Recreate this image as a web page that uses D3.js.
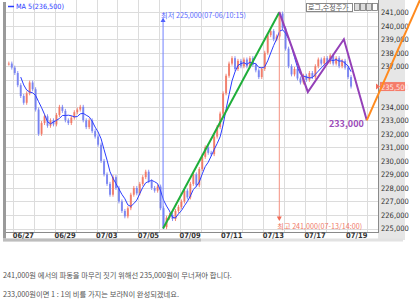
<!DOCTYPE html>
<html>
<head>
<meta charset="utf-8">
<script src="https://cdn.jsdelivr.net/npm/d3@7"></script>
<style>
  body { margin: 0; background: #fff; }
  svg { display: block; font-family: "Noto Sans CJK KR", "DejaVu Sans", sans-serif; }
</style>
</head>
<body>
<svg id="chart" width="420" height="301"></svg>
<script>
// trading days shown (06/26 only has its last two bars on screen)
const days = ['06/26', '06/27', '06/28', '06/29', '07/02', '07/03', '07/04', '07/05', '07/06',
  '07/09', '07/10', '07/11', '07/12', '07/13', '07/16', '07/17', '07/18', '07/19']
// hourly closes per day, in thousands of won
const closes = [
  [237.2, 236.9],
  [236.5, 235.6, 234.8, 234.3, 235.0, 235.8, 235.3],
  [233.8, 232.0, 232.8, 233.3, 232.6, 233.0, 232.7],
  [233.4, 234.0, 233.7, 233.0, 232.8, 233.2, 233.6],
  [233.8, 234.0, 233.0, 232.5, 233.0, 232.2, 231.8],
  [231.2, 230.0, 229.0, 228.3, 227.5, 228.8, 228.0],
  [227.0, 226.3, 225.9, 226.5, 227.5, 228.0, 227.6],
  [228.3, 228.8, 229.2, 228.5, 228.0, 227.8, 228.1],
  [226.5, 225.1, 225.8, 226.0, 225.7, 226.3, 226.6],
  [227.0, 227.8, 227.3, 228.3, 229.0, 228.2, 229.4],
  [230.3, 231.0, 230.6, 230.5, 231.8, 232.5, 233.5],
  [235.0, 236.3, 237.2, 237.6, 236.8, 237.4, 237.0],
  [237.5, 237.0, 237.6, 237.1, 236.7, 236.2, 236.8],
  [238.0, 239.3, 239.6, 239.0, 239.2, 240.9, 239.8],
  [238.3, 237.0, 236.4, 236.8, 236.1, 235.8, 236.3],
  [236.0, 236.5, 236.2, 237.0, 237.5, 237.2, 237.6],
  [237.3, 237.8, 237.2, 237.6, 237.0, 237.4, 236.9],
  [236.2, 235.5]
]
const xLabels = ['06/27', '06/29', '07/03', '07/05', '07/09', '07/11', '07/13', '07/17', '07/19']
const yTicks = [225000, 226000, 227000, 228000, 229000, 230000, 231000, 232000, 233000,
  234000, 235000, 236000, 237000, 238000, 239000, 240000, 241000]
const lastPrice = 235500
const ma5Value = 236500

// trend line low -> high (position in trading days from 06/27 open)
const trendT = [7.19, 12.77]
const trendV = [225000, 241000]
// purple wave and orange projection
const waveT = [12.77, 14.14, 15.87, 16.97]
const waveV = [241000, 235100, 239000, 233000]
const projT = [16.97, 19.55]
const projV = [233000, 242000]

const barsPerDay = 7
const svg = d3.select('#chart')
const plot = { left: 6, right: 378, top: 0, bottom: 232 }

const x = d3.scaleLinear().domain([0, 1]).range([13.3, 34.13])
const y = d3.scaleLinear().domain([225000, 241000]).range([228.5, 12.2])

// flatten bars
let bars = []
closes.forEach((arr, di) => {
  const offset = di === 0 ? barsPerDay - arr.length : 0
  arr.forEach((c, k) => {
    bars.push({ t: di - 1 + (offset + k + 0.5) / barsPerDay, c: c * 1000 })
  })
})
bars.forEach((b, i) => { b.o = i === 0 ? b.c : bars[i - 1].c })

// backgrounds
svg.append('rect').attr('x', 378).attr('y', 0).attr('width', 27).attr('height', 240).attr('fill', '#e6e6e6')
svg.append('rect').attr('x', 3).attr('y', 2).attr('width', 3).attr('height', 239).attr('fill', '#9a9a9a')
svg.append('rect').attr('x', 3).attr('y', 238.5).attr('width', 400).attr('height', 3).attr('fill', '#e2e2e2')
svg.append('rect').attr('x', 3).attr('y', 238.5).attr('width', 198).attr('height', 3).attr('fill', '#bdbdbd')

// grid
const grid = svg.append('g')
grid.selectAll('line.h').data(yTicks).join('line')
  .attr('x1', plot.left).attr('x2', plot.right)
  .attr('y1', d => Math.round(y(d)) + 0.5).attr('y2', d => Math.round(y(d)) + 0.5)
  .attr('stroke', '#dcdcdc')
grid.selectAll('line.v').data(d3.range(0, days.length)).join('line')
  .attr('x1', d => Math.round(x(d)) + 0.5).attr('x2', d => Math.round(x(d)) + 0.5)
  .attr('y1', plot.top).attr('y2', plot.bottom)
  .attr('stroke', '#dcdcdc')

// plot borders
svg.append('line').attr('x1', plot.right + 0.5).attr('x2', plot.right + 0.5)
  .attr('y1', 0).attr('y2', plot.bottom + 0.5).attr('stroke', '#8a8a8a')
svg.append('line').attr('x1', plot.left).attr('x2', plot.right + 1)
  .attr('y1', plot.bottom + 0.5).attr('y2', plot.bottom + 0.5).attr('stroke', '#8a8a8a')

// candles
const candles = svg.append('g')
candles.selectAll('line').data(bars).join('line')
  .attr('x1', d => x(d.t)).attr('x2', d => x(d.t))
  .attr('y1', d => y(Math.max(d.o, d.c)) - 2).attr('y2', d => y(Math.min(d.o, d.c)) + 2)
  .attr('stroke', d => d.c >= d.o ? '#f58a7a' : '#8c94f5').attr('stroke-width', 1)
candles.selectAll('rect').data(bars).join('rect')
  .attr('x', d => x(d.t) - 1).attr('width', 2)
  .attr('y', d => y(Math.max(d.o, d.c)))
  .attr('height', d => Math.max(1, Math.abs(y(d.o) - y(d.c))))
  .attr('fill', d => d.c >= d.o ? '#f0735f' : '#6f7cf0')
  .attr('opacity', 0.8)

// MA 5
const ma = bars.map((b, i) => i < 4 ? null : { t: b.t, v: d3.mean(bars.slice(i - 4, i + 1), d => d.c) })
  .filter(d => d)
svg.append('path').datum(ma)
  .attr('d', d3.line().x(d => x(d.t)).y(d => y(d.v)))
  .attr('fill', 'none').attr('stroke', '#2b3cff').attr('stroke-width', 1)

// low annotation (blue)
const lowX = x(trendT[0])
svg.append('line').attr('x1', lowX).attr('x2', lowX).attr('y1', y(trendV[0])).attr('y2', 21)
  .attr('stroke', '#7080ff').attr('stroke-width', 1)
svg.append('path').attr('d', `M${lowX},17.5 L${lowX - 2.5},22 L${lowX + 2.5},22 Z`).attr('fill', '#5060ff')
svg.append('text').attr('x', lowX - 2).attr('y', 17.5).attr('font-size', 7.2).attr('fill', '#5a6aff')
  .text('최저 225,000(07-06/10:15)')

// high annotation (red)
const highX = x(trendT[1])
svg.append('line').attr('x1', highX).attr('x2', highX).attr('y1', y(trendV[1])).attr('y2', 217)
  .attr('stroke', '#f59080').attr('stroke-width', 1)
svg.append('path').attr('d', `M${highX},221 L${highX - 2.5},216.5 L${highX + 2.5},216.5 Z`).attr('fill', '#f06a55')
svg.append('text').attr('x', highX - 2).attr('y', 228.5).attr('font-size', 7.2).attr('fill', '#f07a68')
  .text('최고 241,000(07-13/14:00)')

// trend, wave, projection
const line = d3.line().x(d => x(d[0])).y(d => y(d[1]))
svg.append('path').attr('d', line(d3.zip(trendT, trendV)))
  .attr('fill', 'none').attr('stroke', '#1fae3a').attr('stroke-width', 2)
svg.append('path').attr('d', line(d3.zip(waveT, waveV)))
  .attr('fill', 'none').attr('stroke', '#9440b8').attr('stroke-width', 2)
svg.append('text').attr('x', x(waveT[3]) - 3).attr('y', y(waveV[3]) + 7)
  .attr('text-anchor', 'end').attr('font-size', 9).attr('font-weight', 'bold').attr('fill', '#9a4ab8')
  .text(d3.format(',')(waveV[3]))

// y axis labels (the one under the price box is hidden, as in the original)
const py = y(lastPrice)
const yAxis = svg.append('g').attr('transform', `translate(${plot.right + 2},0)`)
  .call(d3.axisRight(y).tickValues(yTicks.filter(v => Math.abs(y(v) - py) > 8))
    .tickSize(0).tickPadding(1).tickFormat(d3.format(',')))
yAxis.select('.domain').remove()
yAxis.selectAll('text').attr('font-size', 7.5).attr('fill', '#333').attr('font-family', '"DejaVu Sans Condensed", sans-serif')

// current price marker
svg.append('path').attr('d', `M${plot.right - 2},${py - 3} L${plot.right + 2},${py} L${plot.right - 2},${py + 3} Z`).attr('fill', '#f36e5c')
svg.append('rect').attr('x', plot.right + 2).attr('y', py - 4.5).attr('width', 25).attr('height', 9).attr('fill', '#f57c6a')
svg.append('text').attr('x', plot.right + 3).attr('y', py + 3).attr('font-size', 7.5)
  .attr('font-family', '"DejaVu Sans Condensed", sans-serif').attr('fill', '#ffe8e4')
  .text(d3.format(',')(lastPrice))

// projection drawn on top of axis area
svg.append('path').attr('d', line(d3.zip(projT, projV)))
  .attr('fill', 'none').attr('stroke', '#ff8a1e').attr('stroke-width', 2)

// x axis labels
const xAxis = svg.append('g').attr('transform', `translate(0,${plot.bottom})`)
  .call(d3.axisBottom(x).tickValues(xLabels.map(l => days.indexOf(l) - 1)).tickSize(0).tickPadding(1)
    .tickFormat(d => days[d + 1]))
xAxis.select('.domain').remove()
xAxis.selectAll('text').attr('text-anchor', 'start').attr('dx', -1).attr('font-size', 7.5)
  .attr('font-weight', 'bold').attr('fill', '#333').attr('font-family', '"DejaVu Sans Condensed", sans-serif')

// legend
svg.append('line').attr('x1', 8).attr('x2', 14).attr('y1', 6.5).attr('y2', 6.5).attr('stroke', '#2b3cff').attr('stroke-width', 1.5)
svg.append('text').attr('x', 16).attr('y', 9).attr('font-size', 7.2).attr('fill', '#3040ff')
  .attr('font-family', '"DejaVu Sans Condensed", sans-serif')
  .text(`MA 5(${d3.format(',')(ma5Value)})`)

// option box at top right
svg.append('rect').attr('x', 306.5).attr('y', 3.5).attr('width', 46).attr('height', 8).attr('fill', '#fff').attr('stroke', '#888')
svg.append('text').attr('x', 308).attr('y', 10).attr('font-size', 7).attr('fill', '#555').text('로그,수정주가')
svg.selectAll('rect.btn').data([0, 1, 2, 3]).join('rect')
  .attr('x', d => 354.5 + d * 6).attr('y', 3.5).attr('width', 5).attr('height', 7)
  .attr('fill', d => d === 3 ? '#fff' : '#ddd').attr('stroke', '#777').attr('stroke-width', 0.8)

// comments below the chart
svg.append('text').attr('x', 3).attr('y', 278).attr('font-size', 7.3).attr('fill', '#555')
  .text('241,000원 에서의 파동을 마무리 짓기 위해선 235,000원이 무너져야 합니다.')
svg.append('text').attr('x', 3).attr('y', 297).attr('font-size', 7.3).attr('fill', '#555')
  .text('233,000원이면 1 : 1의 비를 가지는 보라N이 완성되겠네요.')
</script>
</body>
</html>
